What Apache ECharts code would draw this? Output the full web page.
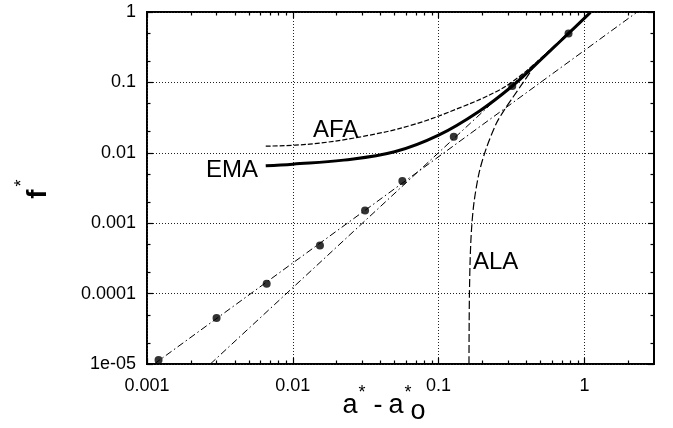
<!DOCTYPE html>
<html><head><meta charset="utf-8">
<script src="https://cdn.jsdelivr.net/npm/echarts@6/dist/echarts.min.js"></script>
<style>html,body{margin:0;padding:0;background:#fff}#c{width:673px;height:428px}</style>
</head><body><div id="c"></div>
<script>
// ---- data ----
const xMajorTicks = [0.001, 0.01, 0.1, 1];
const xTickLabels = ['0.001', '0.01', '0.1', '1'];
const xMinorTicks = [0.002,0.003,0.004,0.005,0.006,0.007,0.008,0.009,
                     0.02,0.03,0.04,0.05,0.06,0.07,0.08,0.09,
                     0.2,0.3,0.4,0.5,0.6,0.7,0.8,0.9, 2];
const yMajorTicks = [1e-5, 1e-4, 1e-3, 0.01, 0.1, 1];
const yTickLabels = ['1e-05', '0.0001', '0.001', '0.01', '0.1', '1'];
const yMinorTicks = [2e-5,5e-5, 2e-4,5e-4, 2e-3,5e-3, 0.02,0.05, 0.2,0.5];

const dotsX = [0.0012, 0.0030, 0.00662, 0.01535, 0.0313, 0.0564, 0.127, 0.320, 0.778];
const dotsY = [1.14e-5, 4.5e-5, 1.38e-4, 4.84e-4, 1.51e-3, 3.99e-3, 0.0169, 0.0887, 0.497];

const lineAX = [0.00112, 2.3];
const lineAY = [1e-5, 1];
const lineBX = [0.00272, 1.1];
const lineBY = [1e-5, 1];

const emaX = [0.00652, 0.01, 0.0223, 0.0499, 0.1, 0.19, 0.32, 0.448, 0.778, 1.1];
const emaY = [0.00653, 0.0069, 0.00787, 0.01033, 0.0178, 0.039, 0.0887, 0.168, 0.497, 0.99];

const afaX = [0.00652, 0.01306, 0.0292, 0.0652, 0.1455, 0.248, 0.320, 0.448, 0.778, 1.1];
const afaY = [0.01244, 0.01328, 0.01688, 0.0247, 0.0451, 0.0737, 0.102, 0.178, 0.50, 0.99];

const alaX = [0.1615, 0.1620, 0.1627, 0.1645, 0.168, 0.175, 0.19, 0.212, 0.248, 0.285, 0.325, 0.37, 0.425, 0.448, 0.55, 0.778, 1.1];
const alaY = [1e-5, 4e-5, 1e-4, 3e-4, 8e-4, 2e-3, 5.3e-3, 0.0115, 0.0258, 0.042, 0.0625, 0.092, 0.14, 0.168, 0.26, 0.497, 0.99];

// ---- build ----
const FONT = '"Liberation Sans", Arial, Helvetica, sans-serif';
const pairs = (xs, ys) => xs.map((x, i) => [x, ys[i]]);
function nearestLabel(v, ticks, labels) {
  let best = 0, bd = Infinity;
  ticks.forEach((t, i) => { const d = Math.abs(Math.log10(v) - Math.log10(t)); if (d < bd) { bd = d; best = i; } });
  return bd < 0.01 ? labels[best] : '';
}
const gridLine = { show: true, lineStyle: { color: '#222', width: 1, type: [1, 2] } };
function xAx(pos, major, withLabels) {
  return {
    type: 'log', logBase: 10, min: 0.001, max: 3, position: pos, gridIndex: 0,
    axisLine: { show: false },
    axisTick: { show: true, inside: true, length: major ? 6 : 3.5, customValues: major ? xMajorTicks : xMinorTicks,
                lineStyle: { color: '#000', width: 1.2 } },
    axisLabel: withLabels ? { show: true, customValues: xMajorTicks, margin: 13, color: '#000', fontSize: 18, fontFamily: FONT,
                formatter: v => nearestLabel(v, xMajorTicks, xTickLabels) } : { show: false },
    splitLine: withLabels ? gridLine : { show: false },
    minorTick: { show: false }, minorSplitLine: { show: false }
  };
}
function yAx(pos, major, withLabels) {
  return {
    type: 'log', logBase: 10, min: 1e-5, max: 1, position: pos, gridIndex: 0,
    axisLine: { show: false },
    axisTick: { show: true, inside: true, length: major ? 6 : 3.5, customValues: major ? yMajorTicks : yMinorTicks,
                lineStyle: { color: '#000', width: 1.2 } },
    axisLabel: withLabels ? { show: true, customValues: yMajorTicks, margin: 11, color: '#000', fontSize: 18, fontFamily: FONT,
                formatter: v => nearestLabel(v, yMajorTicks, yTickLabels) } : { show: false },
    splitLine: withLabels ? gridLine : { show: false },
    minorTick: { show: false }, minorSplitLine: { show: false }
  };
}
const dashDot = [7, 3, 1.5, 3];
const option = {
  animation: false,
  backgroundColor: '#fff',
  grid: { left: 147, right: 19, top: 12, bottom: 64, show: true, borderColor: '#000', borderWidth: 2,
          backgroundColor: 'transparent', containLabel: false, outerBoundsMode: 'none' },
  xAxis: [xAx('bottom', true, true), xAx('bottom', false, false), xAx('top', true, false), xAx('top', false, false)],
  yAxis: [yAx('left', true, true), yAx('left', false, false), yAx('right', true, false), yAx('right', false, false)],
  series: [
    { type: 'line', name: 'lineA', data: pairs(lineAX, lineAY), showSymbol: false, symbol: 'none',
      lineStyle: { color: '#000', width: 1, type: dashDot }, z: 3 },
    { type: 'line', name: 'lineB', data: pairs(lineBX, lineBY), showSymbol: false, symbol: 'none',
      lineStyle: { color: '#000', width: 1, type: dashDot }, z: 3 },
    { type: 'line', name: 'ALA', data: pairs(alaX, alaY), showSymbol: false, symbol: 'none', smooth: 0.3,
      lineStyle: { color: '#000', width: 1.2, type: [8, 3] }, z: 3 },
    { type: 'line', name: 'AFA', data: pairs(afaX, afaY), showSymbol: false, symbol: 'none', smooth: 0.4,
      lineStyle: { color: '#000', width: 1.2, type: [5, 2] }, z: 3 },
    { type: 'line', name: 'EMA', data: pairs(emaX, emaY), showSymbol: false, symbol: 'none', smooth: 0.4,
      lineStyle: { color: '#000', width: 3 }, z: 4 },
    { type: 'scatter', name: 'dots', data: pairs(dotsX, dotsY), symbol: 'circle', symbolSize: 8,
      itemStyle: { color: '#000' }, z: 5 }
  ],
  graphic: [
    { type: 'text', x: 206, y: 170, style: { text: 'EMA', font: '24px ' + FONT, fill: '#000', align: 'left', verticalAlign: 'middle' } },
    { type: 'text', x: 313, y: 130, style: { text: 'AFA', font: '24px ' + FONT, fill: '#000', align: 'left', verticalAlign: 'middle' } },
    { type: 'text', x: 473, y: 262, style: { text: 'ALA', font: '24px ' + FONT, fill: '#000', align: 'left', verticalAlign: 'middle' } },
    // x axis title  a* - a*o
    { type: 'text', x: 350, y: 406, style: { text: 'a', font: '27px ' + FONT, fill: '#000', align: 'center', verticalAlign: 'middle' } },
    { type: 'text', x: 362, y: 393, style: { text: '*', font: '18px ' + FONT, fill: '#000', align: 'center', verticalAlign: 'middle' } },
    { type: 'text', x: 378, y: 406, style: { text: '-', font: '27px ' + FONT, fill: '#000', align: 'center', verticalAlign: 'middle' } },
    { type: 'text', x: 396, y: 406, style: { text: 'a', font: '27px ' + FONT, fill: '#000', align: 'center', verticalAlign: 'middle' } },
    { type: 'text', x: 408, y: 393, style: { text: '*', font: '18px ' + FONT, fill: '#000', align: 'center', verticalAlign: 'middle' } },
    { type: 'text', x: 418, y: 412, style: { text: 'o', font: '27px ' + FONT, fill: '#000', align: 'center', verticalAlign: 'middle' } },
    // y axis title f*
    { type: 'text', x: 38, y: 194, rotation: Math.PI / 2, style: { text: 'f', font: 'bold 28px ' + FONT, fill: '#000', align: 'center', verticalAlign: 'middle' } },
    { type: 'text', x: 22, y: 183, rotation: Math.PI / 2, style: { text: '*', font: '18px ' + FONT, fill: '#000', align: 'center', verticalAlign: 'middle' } }
  ]
};
const chart = echarts.init(document.getElementById('c'), null, { renderer: 'canvas' });
chart.setOption(option);
</script>
</body></html>
